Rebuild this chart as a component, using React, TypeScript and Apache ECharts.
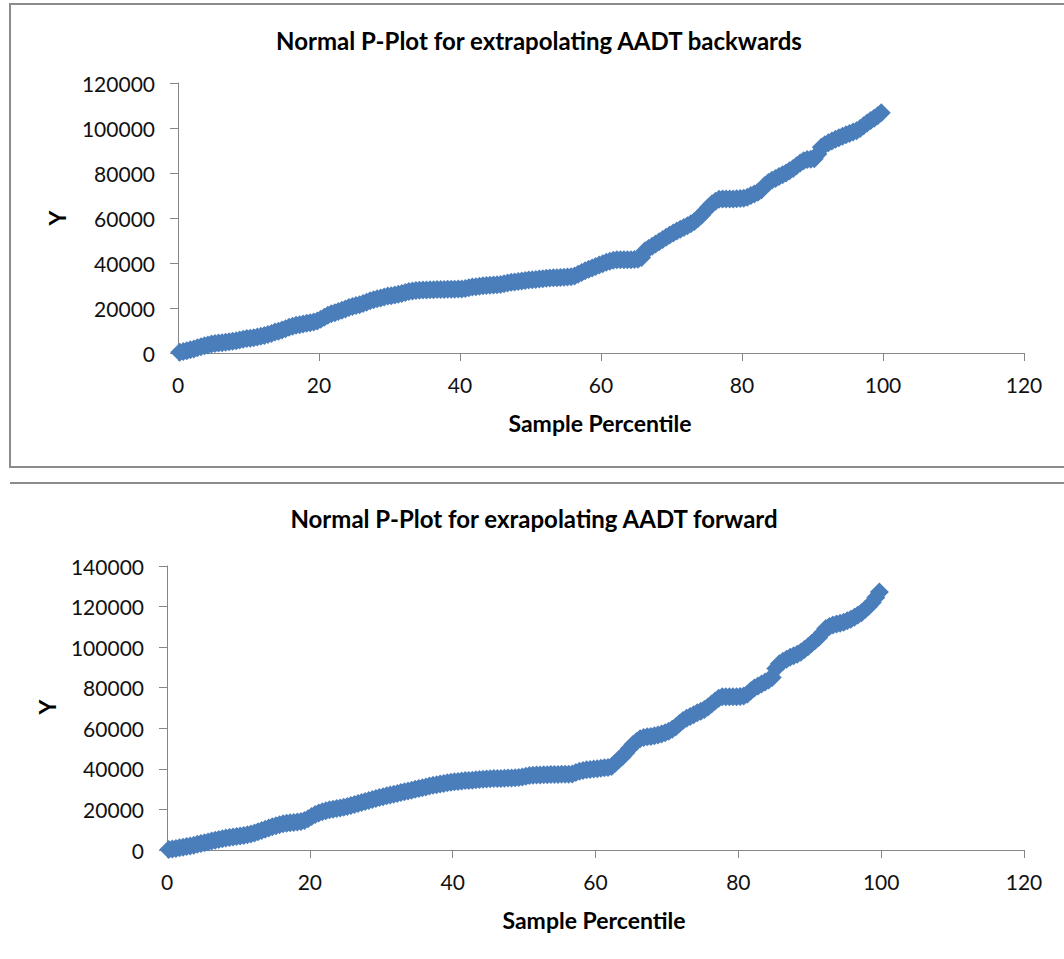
import React, { useEffect, useRef } from "react";
import * as echarts from "echarts";

// ---------- DATA ----------
const xMin = 0;
const xMax = 120;
const xInterval = 20;

const backwardYMax = 120000;
const forwardYMax = 140000;
const yInterval = 20000;

const backwardTitle = "Normal P-Plot for extrapolating AADT backwards";
const forwardTitle = "Normal P-Plot for exrapolating AADT forward";
const xAxisTitle = "Sample Percentile";
const yAxisTitle = "Y";

// sorted AADT values, one per sample rank
const backwardAADT = [
  300, 650, 1000, 1400, 1800, 2300, 2800, 3200, 3600, 4000,
  4200, 4400, 4600, 4800, 5000, 5200, 5500, 5800, 6100, 6400,
  6600, 6800, 7100, 7400, 7800, 8200, 8700, 9300, 9700, 10200,
  10800, 11400, 11900, 12300, 12600, 12900, 13200, 13500, 13800, 14200,
  15000, 15900, 16800, 17400, 17900, 18400, 19000, 19600, 20200, 20700,
  21100, 21500, 22000, 22600, 23200, 23700, 24100, 24500, 24900, 25300,
  25500, 25800, 26100, 26500, 26900, 27300, 27600, 27800, 27900, 28000,
  28000, 28100, 28100, 28200, 28200, 28200, 28300, 28300, 28300, 28400,
  28500, 28700, 29000, 29300, 29500, 29700, 29900, 30000, 30100, 30200,
  30300, 30500, 30800, 31100, 31400, 31600, 31800, 32000, 32200, 32400,
  32600, 32700, 32900, 33000, 33200, 33300, 33400, 33500, 33600, 33700,
  33800, 33900, 34200, 35000, 35800, 36600, 37200, 37800, 38400, 39100,
  39700, 40300, 40800, 41200, 41400, 41500, 41500, 41500, 41500, 41600,
  41700, 42500, 45500, 46500, 47500, 48500, 49500, 50500, 51500, 52500,
  53300, 54200, 55000, 55800, 56600, 57400, 58500, 59800, 61200, 63000,
  64800, 66300, 67500, 68300, 68500, 68500, 68500, 68500, 68600, 68700,
  68800, 69200, 70000, 70700, 71400, 72500, 74500, 75800, 76800, 77600,
  78400, 79200, 80000, 81000, 82000, 83200, 84400, 85500, 86000, 86100,
  86300, 88500, 91500, 92600, 93500, 94200, 95000, 95700, 96300, 97000,
  97600, 98200, 98800, 99800, 101000, 102200, 103300, 104300, 105400, 106800,
];

const forwardAADT = [
  200, 500, 800, 1100, 1400, 1700, 2000, 2400, 2800, 3200,
  3600, 4000, 4400, 4800, 5200, 5600, 5900, 6200, 6400, 6600,
  6900, 7200, 7500, 7900, 8400, 9000, 9600, 10200, 10800, 11400,
  12000, 12500, 12900, 13200, 13400, 13600, 13800, 14100, 14600, 15400,
  16500, 17500, 18300, 18900, 19400, 19800, 20100, 20400, 20700, 21100,
  21500, 21900, 22400, 22900, 23400, 23900, 24400, 24900, 25400, 25900,
  26300, 26700, 27100, 27500, 27900, 28300, 28700, 29100, 29500, 29900,
  30300, 30700, 31100, 31500, 31900, 32200, 32500, 32800, 33100, 33400,
  33600, 33800, 34000, 34200, 34300, 34400, 34600, 34800, 34900, 35000,
  35100, 35200, 35300, 35300, 35400, 35500, 35500, 35600, 35700, 36000,
  36400, 36700, 36900, 37000, 37000, 37100, 37100, 37200, 37200, 37200,
  37300, 37300, 37400, 37500, 38200, 38800, 39200, 39500, 39700, 39900,
  40100, 40300, 40500, 40700, 41200, 42800, 44500, 46000, 48000, 50000,
  52000, 53500, 54800, 55500, 55800, 56000, 56300, 56700, 57200, 57800,
  58600, 59500, 60800, 62300, 63800, 64900, 65800, 66700, 67600, 68400,
  69200, 70500, 72000, 73500, 74800, 75500, 75600, 75600, 75600, 75600,
  75700, 75900, 76800, 78500, 79800, 80800, 81800, 82800, 83800, 85000,
  89500, 91800, 93000, 94000, 95000, 95800, 96500, 97500, 98800, 100200,
  101800, 103300, 104800, 107000, 109200, 110200, 110900, 111400, 111800, 112300,
  113000, 113800, 114700, 115800, 117000, 118600, 120200, 122000, 124500, 127200,
];

// sample percentile of each sorted value: (rank - 0.5) / n * 100
const toPPlot = (values: number[]) =>
  values.map((v, i) => [((i + 0.5) / values.length) * 100, v]);

// ---------- STYLE ----------
const FONT = "Lato, 'Open Sans', sans-serif";
const AXIS_GRAY = "#868686";
const TEXT = "#111111";
const MARKER = "#4A7EBB";

export default function App() {
  const ref = useRef<HTMLDivElement>(null);

  useEffect(() => {
    if (!ref.current) return;
    const chart = echarts.init(ref.current, undefined, { renderer: "svg" });

    const xAxisBase = (gridIndex: number) => ({
      type: "value",
      gridIndex,
      min: xMin,
      max: xMax,
      interval: xInterval,
      axisLine: { show: true, onZero: false, lineStyle: { color: AXIS_GRAY, width: 1 } },
      axisTick: { show: true, inside: false, length: 8, lineStyle: { color: AXIS_GRAY } },
      splitLine: { show: false },
      axisLabel: { fontFamily: FONT, fontSize: 21, color: TEXT, margin: 21 },
    });
    const yAxisBase = (gridIndex: number, max: number) => ({
      type: "value",
      gridIndex,
      min: 0,
      max,
      interval: yInterval,
      axisLine: { show: true, onZero: false, lineStyle: { color: AXIS_GRAY, width: 1 } },
      axisTick: { show: true, inside: false, length: 8, lineStyle: { color: AXIS_GRAY } },
      splitLine: { show: false },
      axisLabel: {
        fontFamily: FONT,
        fontSize: 21,
        color: TEXT,
        margin: 23,
        formatter: (v: number) => String(v),
      },
    });

    const titleFont = { fontFamily: FONT, fontSize: 24, fontWeight: "bold", fill: "#000" };
    const axisNameFont = { fontFamily: FONT, fontSize: 23, fontWeight: "bold", fill: "#000" };

    chart.setOption({
      animation: false,
      backgroundColor: "#ffffff",
      grid: [
        { left: 178, top: 83, width: 846, height: 270 },
        { left: 167, top: 566, width: 857, height: 284 },
      ],
      xAxis: [xAxisBase(0), xAxisBase(1)],
      yAxis: [yAxisBase(0, backwardYMax), yAxisBase(1, forwardYMax)],
      series: [
        {
          type: "scatter",
          xAxisIndex: 0,
          yAxisIndex: 0,
          symbol: "diamond",
          symbolSize: 19,
          itemStyle: { color: MARKER, opacity: 1 },
          data: toPPlot(backwardAADT),
        },
        {
          type: "scatter",
          xAxisIndex: 1,
          yAxisIndex: 1,
          symbol: "diamond",
          symbolSize: 19,
          itemStyle: { color: MARKER, opacity: 1 },
          data: toPPlot(forwardAADT),
        },
      ],
      graphic: [
        {
          type: "rect",
          shape: { x: 10, y: 4, width: 1070, height: 463 },
          style: { fill: "none", stroke: "#8c8c8c", lineWidth: 2 },
          silent: true,
        },
        {
          type: "line",
          shape: { x1: 10, y1: 483, x2: 1064, y2: 483 },
          style: { stroke: "#8c8c8c", lineWidth: 2 },
          silent: true,
        },
        {
          type: "text",
          x: 539,
          y: 40,
          style: { text: backwardTitle, ...titleFont, align: "center", verticalAlign: "middle" },
        },
        {
          type: "text",
          x: 600,
          y: 423,
          style: { text: xAxisTitle, ...axisNameFont, align: "center", verticalAlign: "middle" },
        },
        {
          type: "text",
          x: 57,
          y: 218,
          rotation: Math.PI / 2,
          style: { text: yAxisTitle, ...axisNameFont, align: "center", verticalAlign: "middle" },
        },
        {
          type: "text",
          x: 534,
          y: 518,
          style: { text: forwardTitle, ...titleFont, align: "center", verticalAlign: "middle" },
        },
        {
          type: "text",
          x: 594,
          y: 920,
          style: { text: xAxisTitle, ...axisNameFont, align: "center", verticalAlign: "middle" },
        },
        {
          type: "text",
          x: 47,
          y: 707,
          rotation: Math.PI / 2,
          style: { text: yAxisTitle, ...axisNameFont, align: "center", verticalAlign: "middle" },
        },
      ],
    });

    return () => chart.dispose();
  }, []);

  return (
    <div
      ref={ref}
      style={{ position: "absolute", left: 0, top: 0, width: 1064, height: 959, background: "#fff" }}
    />
  );
}
